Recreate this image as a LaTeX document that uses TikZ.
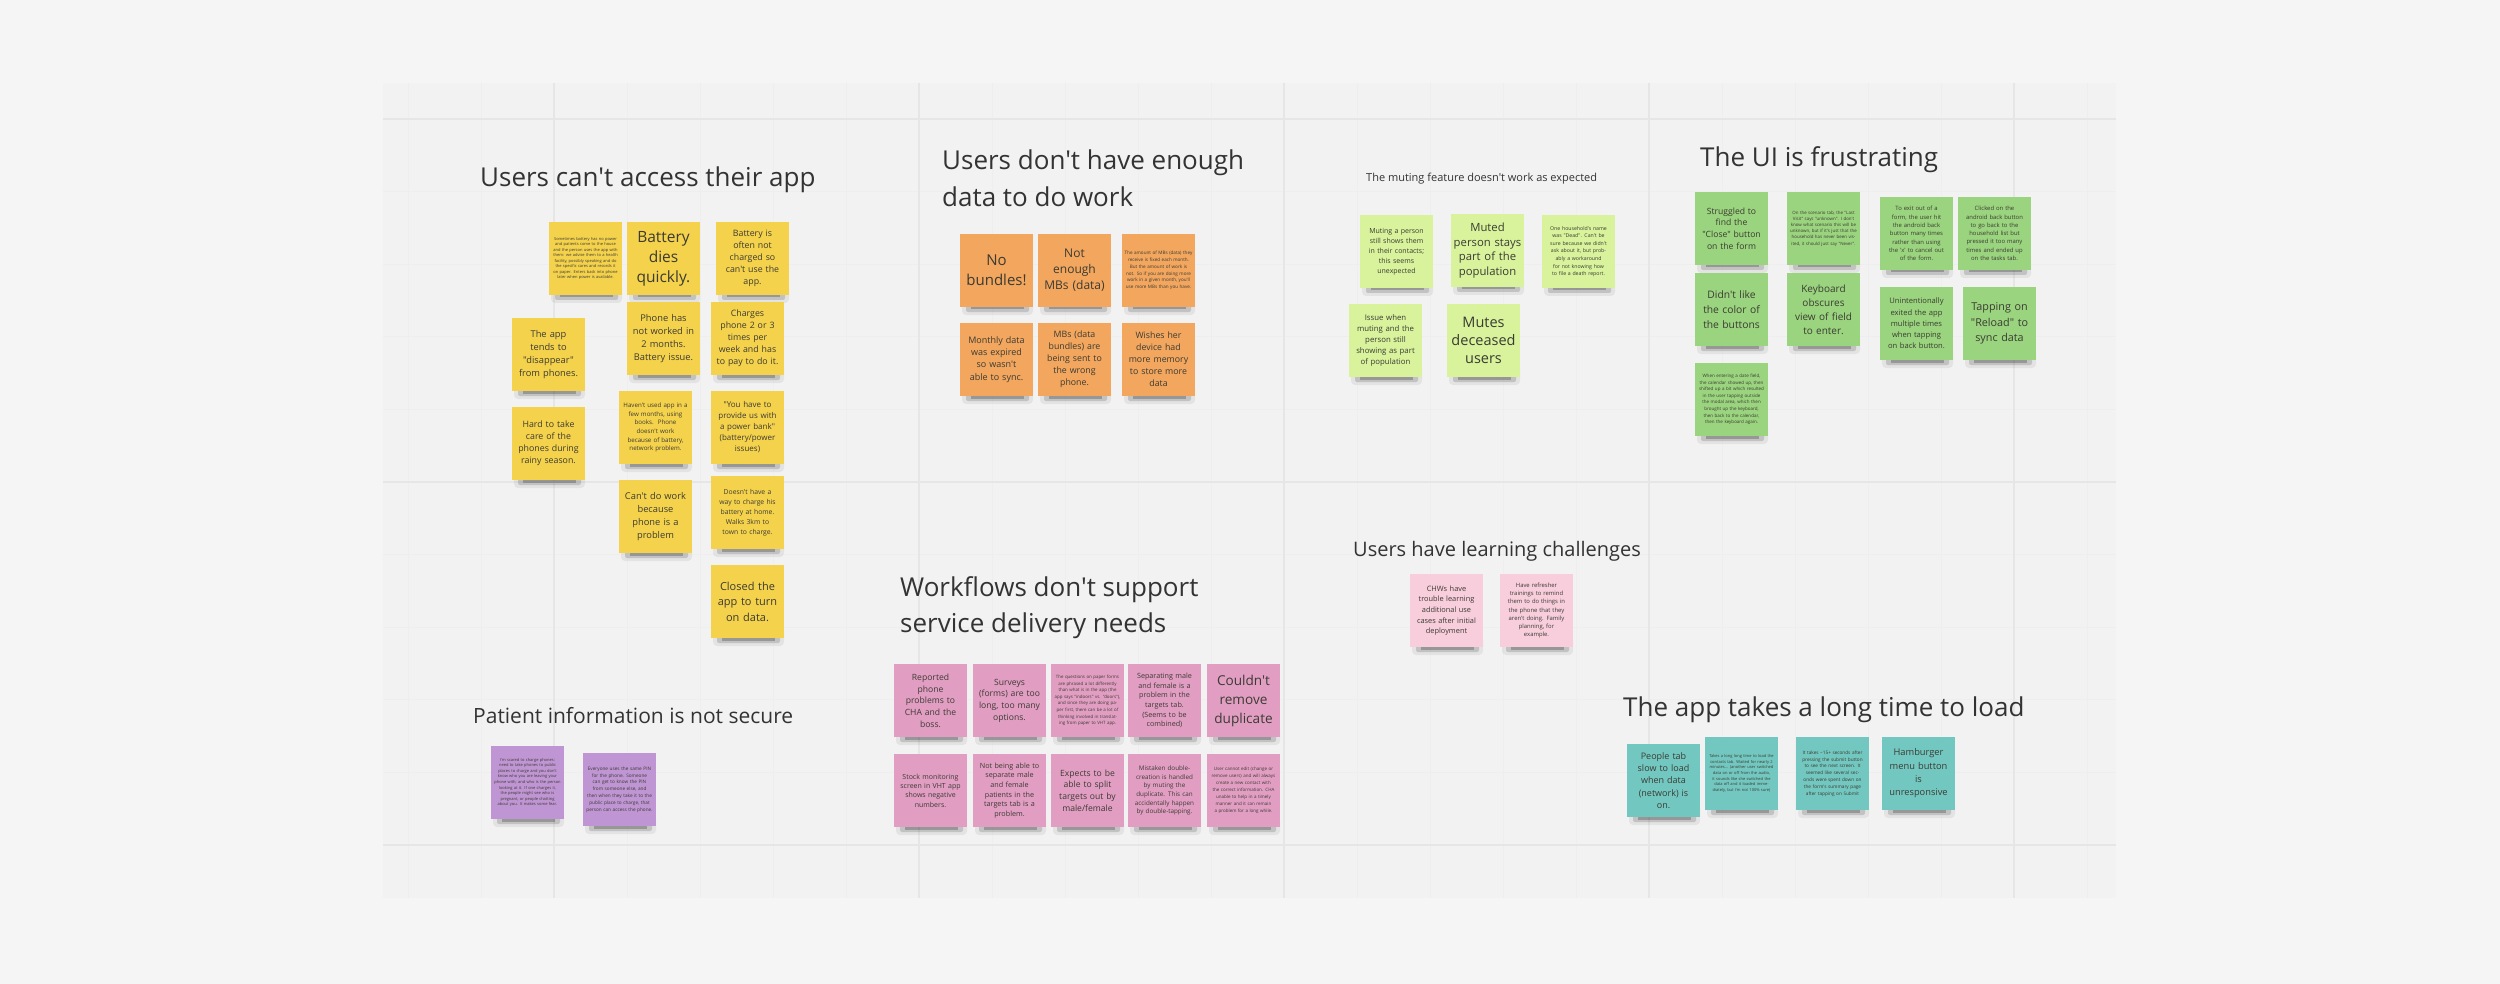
\documentclass[tikz,border=0pt]{standalone}
\usepackage{fontspec}
\setmainfont{Open Sans}[Ligatures=TeXOff]
\definecolor{bgout}{HTML}{F5F5F5}
\definecolor{board}{HTML}{F2F2F2}
\definecolor{gridmin}{HTML}{EEEEEE}
\definecolor{gridmaj}{HTML}{E6E6E6}
\definecolor{cyellow}{HTML}{F5D24C}
\definecolor{corange}{HTML}{F2A65E}
\definecolor{clime}{HTML}{D8F39C}
\definecolor{cgreen}{HTML}{9AD47E}
\definecolor{cpink}{HTML}{E29EC2}
\definecolor{clpink}{HTML}{F8CEDC}
\definecolor{cpurple}{HTML}{C095D4}
\definecolor{cteal}{HTML}{72C8C0}
\definecolor{ink}{HTML}{333333}
\definecolor{noteink}{HTML}{3B3B33}
\tikzset{
  stickynote/.style={rectangle, minimum width=73pt, minimum height=73pt, inner sep=0pt,
    text width=68pt, align=center, text=noteink},
  boardtitle/.style={anchor=base west, inner sep=0pt, text=ink},
  gridminor/.style={draw=gridmin, line width=0.8pt},
  gridmajor/.style={draw=gridmaj, line width=1.3pt}
}
\newcommand{\stick}[7]{%
  \fill[black,opacity=.06,rounded corners=4pt] (#2+2,#3+62) rectangle (#2+73,#3+81);
  \fill[black,opacity=.14,rounded corners=2pt] (#2+6,#3+67) rectangle (#2+69,#3+78);
  \fill[black,opacity=.22] (#2+11,#3+72) rectangle (#2+64,#3+75.5);
  \node[stickynote,fill=#4,font={\fontsize{#5}{#6}\selectfont}] (#1) at (#2+36.5,#3+36.5) {#7};
}
\begin{document}
\begin{tikzpicture}[x=1pt,y=-1pt]
\useasboundingbox (0,0) rectangle (2500,984);
\fill[bgout] (0,0) rectangle (2500,984);
\fill[board] (383,83) rectangle (2116,898);
% grid
\foreach \gx in {408,481,...,2110} {\draw[gridminor] (\gx,83) -- (\gx,898);}
\foreach \gy in {119,191.6,...,898} {\draw[gridminor] (383,\gy) -- (2116,\gy);}
\foreach \gx in {554,919,1284,1649,2014} {\draw[gridmajor] (\gx,83) -- (\gx,898);}
\foreach \gy in {119,482,845} {\draw[gridmajor] (383,\gy) -- (2116,\gy);}

% ---------- titles ----------
\node[boardtitle,font={\fontsize{26}{30}\selectfont}] (t1) at (480,187) {Users can't access their app};
\node[boardtitle,font={\fontsize{26}{30}\selectfont}] (t2a) at (942,170) {Users don't have enough};
\node[boardtitle,font={\fontsize{26}{30}\selectfont}] (t2b) at (942,207) {data to do work};
\node[boardtitle,font={\fontsize{11}{14}\selectfont}] (t3) at (1366,182) {The muting feature doesn't work as expected};
\node[boardtitle,font={\fontsize{26}{30}\selectfont}] (t4) at (1700,167) {The UI is frustrating};
\node[boardtitle,font={\fontsize{26}{30}\selectfont}] (t5a) at (900,596) {Workflows don't support};
\node[boardtitle,font={\fontsize{26}{30}\selectfont}] (t5b) at (900,632) {service delivery needs};
\node[boardtitle,font={\fontsize{21}{25}\selectfont}] (t6) at (473,723) {Patient information is not secure};
\node[boardtitle,font={\fontsize{20}{24}\selectfont}] (t7) at (1353,556) {Users have learning challenges};
\node[boardtitle,font={\fontsize{26}{30}\selectfont}] (t8) at (1623,716) {The app takes a long time to load};

% ---------- yellow ----------
\stick{y1}{549}{222}{cyellow}{4}{5.5}{Sometimes battery has no power and patients come to the house and the person uses the app with them: we advise them to a health facility, possibly speaking and do the specific cares and records it on paper. Enters back into phone later when power is available.}
\stick{y2}{627}{222}{cyellow}{15.5}{20}{Battery\\dies\\quickly.}
\stick{y3}{716}{222}{cyellow}{8.8}{12}{Battery is\\often not\\charged so\\can't use the\\app.}
\stick{y4}{512}{318}{cyellow}{9.3}{13}{The app\\tends to\\"disappear"\\from phones.}
\stick{y5}{627}{302}{cyellow}{9.3}{13}{Phone has\\not worked in\\2 months.\\Battery issue.}
\stick{y6}{711}{302}{cyellow}{8.8}{12}{Charges\\phone 2 or 3\\times per\\week and has\\to pay to do it.}
\stick{y7}{512}{407}{cyellow}{8.8}{12}{Hard to take\\care of the\\phones during\\rainy season.}
\stick{y8}{619}{391}{cyellow}{6.2}{8.7}{Haven't used app in a\\few months, using\\books.\ \ Phone\\doesn't work\\because of battery,\\network problem.}
\stick{y9}{711}{391}{cyellow}{8}{11}{"You have to\\provide us with\\a power bank"\\(battery/power\\issues)}
\stick{y10}{619}{480}{cyellow}{9.3}{13}{Can't do work\\because\\phone is a\\problem}
\stick{y11}{711}{476}{cyellow}{6.8}{10}{Doesn't have a\\way to charge his\\battery at home.\\Walks 3km to\\town to charge.}
\stick{y12}{711}{565}{cyellow}{11}{15.5}{Closed the\\app to turn\\on data.}

% ---------- orange ----------
\stick{o1}{960}{234}{corange}{15}{20}{No\\bundles!}
\stick{o2}{1038}{234}{corange}{12}{16}{Not\\enough\\MBs (data)}
\stick{o3}{1122}{234}{corange}{4.6}{6.8}{The amount of MBs (data) they receive is fixed each month. But the amount of work is not. So if you are doing more work in a given month, you'll use more MBs than you have.}
\stick{o4}{960}{323}{corange}{9}{12.3}{Monthly data\\was expired\\so wasn't\\able to sync.}
\stick{o5}{1038}{323}{corange}{8.8}{12}{MBs (data\\bundles) are\\being sent to\\the wrong\\phone.}
\stick{o6}{1122}{323}{corange}{8.8}{12}{Wishes her\\device had\\more memory\\to store more\\data}

% ---------- lime ----------
\stick{l1}{1360}{215}{clime}{7}{10}{Muting a person\\still shows them\\in their contacts;\\this seems\\unexpected}
\stick{l2}{1451}{214}{clime}{11.3}{14.5}{Muted\\person stays\\part of the\\population}
\stick{l3}{1542}{215}{clime}{5.2}{7.6}{One household's name was "Dead". Can't be sure because we didn't ask about it, but probably a workaround for not knowing how to file a death report.}
\stick{l4}{1349}{304}{clime}{7.8}{11}{Issue when\\muting and the\\person still\\showing as part\\of population}
\stick{l5}{1447}{304}{clime}{14.5}{18}{Mutes\\deceased\\users}

% ---------- green ----------
\stick{g1}{1695}{192}{cgreen}{8.6}{11.7}{Struggled to\\find the\\"Close" button\\on the form}
\stick{g2}{1787}{192}{cgreen}{4.4}{6.2}{On the scenario tab, the "Last Visit" says "unknown". I don't know what scenario this will be unknown, but if it's just that the household has never been visited, it should just say "Never".}
\stick{g3}{1880}{197}{cgreen}{5.9}{8.3}{To exit out of a\\form, the user hit\\the android back\\button many times\\rather than using\\the 'x' to cancel out\\of the form.}
\stick{g4}{1958}{197}{cgreen}{5.9}{8.3}{Clicked on the\\android back button\\to go back to the\\household list but\\pressed it too many\\times and ended up\\on the tasks tab.}
\stick{g5}{1695}{273}{cgreen}{10.3}{15}{Didn't like\\the color of\\the buttons}
\stick{g6}{1787}{273}{cgreen}{10}{14}{Keyboard\\obscures\\view of field\\to enter.}
\stick{g7}{1880}{287}{cgreen}{7.6}{11.3}{Unintentionally\\exited the app\\multiple times\\when tapping\\on back button.}
\stick{g8}{1963}{287}{cgreen}{10.8}{15.3}{Tapping on\\"Reload" to\\sync data}
\stick{g9}{1695}{363}{cgreen}{4.5}{6.6}{When entering a date field, the calendar showed up, then shifted up a bit which resulted in the user tapping outside the modal area, which then brought up the keyboard, then back to the calendar, then the keyboard again.}

% ---------- pink ----------
\stick{p1}{894}{664}{cpink}{8.6}{11.7}{Reported\\phone\\problems to\\CHA and the\\boss.}
\stick{p2}{973}{664}{cpink}{8.6}{11.7}{Surveys\\(forms) are too\\long, too many\\options.}
\stick{p3}{1051}{664}{cpink}{4.4}{6.6}{The questions on paper forms are phrased a lot differently than what is in the app (the app says "indoors" vs. "doors"), and since they are doing paper first, there can be a lot of thinking involved in translating from paper to VHT app.}
\stick{p4}{1128}{664}{cpink}{7.2}{9.7}{Separating male\\and female is a\\problem in the\\targets tab.\\(Seems to be\\combined)}
\stick{p5}{1207}{664}{cpink}{13.6}{19}{Couldn't\\remove\\duplicate}
\stick{p6}{894}{754}{cpink}{7}{9.3}{Stock monitoring\\screen in VHT app\\shows negative\\numbers.}
\stick{p7}{973}{754}{cpink}{7.2}{9.7}{Not being able to\\separate male\\and female\\patients in the\\targets tab is a\\problem.}
\stick{p8}{1051}{754}{cpink}{8.6}{11.7}{Expects to be\\able to split\\targets out by\\male/female}
\stick{p9}{1128}{754}{cpink}{6.3}{8.7}{Mistaken double-\\creation is handled\\by muting the\\duplicate. This can\\accidentally happen\\by double-tapping.}
\stick{p10}{1207}{754}{cpink}{4.5}{7}{User cannot edit (change or remove users) and will always create a new contact with the correct information. CHA unable to help in a timely manner and it can remain a problem for a long while.}

% ---------- purple ----------
\stick{u1}{491}{746}{cpurple}{4}{5.6}{I'm scared to charge phones: need to take phones to public places to charge and you don't know who you are leaving your phone with; and who is the person looking at it. If one charges it, the people might see who is pregnant, or people chatting about you. It makes some fear.}
\stick{u2}{583}{753}{cpurple}{4.7}{6.8}{Everyone uses the same PIN for the phone. Someone can get to know the PIN from someone else, and then when they take it to the public place to charge, that person can access the phone.}

% ---------- light pink ----------
\stick{k1}{1410}{574}{clpink}{7.4}{10.7}{CHWs have\\trouble learning\\additional use\\cases after initial\\deployment}
\stick{k2}{1500}{574}{clpink}{5.9}{8.3}{Have refresher\\trainings to remind\\them to do things in\\the phone that they\\aren't doing. Family\\planning, for\\example.}

% ---------- teal ----------
\stick{a1}{1627}{744}{cteal}{9}{12.3}{People tab\\slow to load\\when data\\(network) is\\on.}
\stick{a2}{1705}{737}{cteal}{4}{5.7}{Takes a long long time to load the contacts tab. Waited for nearly 2 minutes... (another user switched data on or off from the audio, it sounds like she switched the data off and it loaded immediately, but I'm not 100\% sure)}
\stick{a3}{1796}{737}{cteal}{4.7}{6.8}{It takes \textasciitilde15+ seconds after pressing the submit button to see the next screen. It seemed like several seconds were spent down on the form's summary page after tapping on Submit}
\stick{a4}{1882}{737}{cteal}{9.3}{13.3}{Hamburger\\menu button\\is\\unresponsive}
\end{tikzpicture}
\end{document}
